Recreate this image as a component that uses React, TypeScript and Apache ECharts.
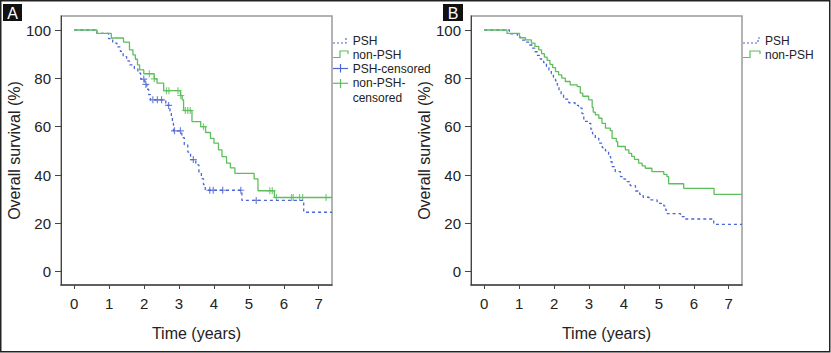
import React, { useEffect, useRef } from "react";
import * as echarts from "echarts";

// ---- tick values ----
const xTickValues = [0, 1, 2, 3, 4, 5, 6, 7];
const yTickValues = [0, 20, 40, 60, 80, 100];

// ---- Panel A: Kaplan–Meier steps [time (years), survival (%)] ----
const aPsh: [number, number][] = [
  [0, 100], [0.65, 98.6], [0.98, 96.4], [1.1, 94.6], [1.22, 93.0], [1.32, 91.2],
  [1.4, 89.0], [1.5, 87.2], [1.58, 85.6], [1.72, 84.0], [1.82, 82.2], [1.9, 79.7],
  [2.02, 77.5], [2.08, 75.5], [2.13, 73.3], [2.18, 71.1], [2.62, 68.8], [2.74, 66.5],
  [2.78, 64.0], [2.81, 61.5], [2.84, 58.3], [3.08, 55.5], [3.15, 52.5], [3.25, 49.5],
  [3.33, 46.4], [3.48, 44.2], [3.57, 41.2], [3.64, 38.5], [3.7, 36.0], [3.75, 33.7],
  [4.8, 29.5], [6.57, 24.6], [7.38, 24.6],
];
const aNonPsh: [number, number][] = [
  [0, 100], [0.65, 98.6], [1.06, 96.7], [1.41, 95.0], [1.58, 91.8], [1.68, 89.7],
  [1.75, 87.9], [1.81, 85.6], [1.87, 83.5], [1.99, 81.9], [2.29, 79.8], [2.37, 78.0],
  [2.56, 74.9], [3.04, 72.9], [3.09, 71.1], [3.13, 66.7], [3.37, 62.1], [3.62, 60.0],
  [3.76, 57.6], [3.9, 55.2], [4.0, 53.2], [4.13, 50.4], [4.23, 47.6], [4.36, 44.9],
  [4.47, 43.0], [4.6, 40.7], [5.15, 38.4], [5.26, 33.5], [5.73, 30.7], [7.38, 30.7],
];
const aPshCensored: [number, number][] = [
  [1.99, 79.7], [2.05, 77.5], [2.25, 71.1], [2.38, 71.1], [2.5, 71.1], [2.7, 68.8],
  [2.87, 58.3], [3.04, 58.3], [3.41, 46.4], [3.88, 33.7], [3.98, 33.7], [4.25, 33.7],
  [4.77, 33.7], [5.21, 29.5],
];
const aNonPshCensored: [number, number][] = [
  [2.15, 81.9], [2.29, 79.8], [2.64, 74.9], [2.71, 74.9], [2.97, 74.9], [3.05, 72.9],
  [3.18, 66.7], [3.25, 66.7], [3.32, 66.7], [3.7, 60.0], [5.6, 33.5], [5.67, 33.5],
  [5.79, 30.7], [6.22, 30.7], [6.27, 30.7], [6.45, 30.7], [6.54, 30.7], [7.21, 30.7],
];

// ---- Panel B ----
const bPsh: [number, number][] = [
  [0, 100], [0.72, 98.4], [0.95, 97.0], [1.05, 95.8], [1.18, 95.0], [1.28, 93.8],
  [1.37, 92.5], [1.45, 91.0], [1.52, 89.5], [1.6, 88.0], [1.7, 86.5], [1.78, 85.0],
  [1.85, 83.5], [1.92, 82.0], [1.98, 80.5], [2.04, 79.0], [2.09, 77.2], [2.14, 75.2],
  [2.2, 73.5], [2.27, 71.4], [2.42, 69.9], [2.6, 68.8], [2.7, 67.7], [2.8, 65.4],
  [2.85, 62.2], [2.98, 61.4], [3.05, 59.0], [3.1, 57.0], [3.18, 55.2], [3.28, 53.2],
  [3.38, 51.3], [3.47, 50.0], [3.56, 47.6], [3.62, 45.5], [3.66, 43.5], [3.75, 41.4],
  [3.9, 39.3], [4.0, 38.3], [4.09, 37.3], [4.18, 35.6], [4.33, 33.4], [4.45, 32.0],
  [4.55, 30.8], [4.72, 29.7], [4.95, 28.3], [5.14, 27.2], [5.2, 25.4], [5.24, 24.0],
  [5.62, 22.8], [5.74, 21.8], [6.57, 19.6], [7.38, 19.6],
];
const bNonPsh: [number, number][] = [
  [0, 100], [0.65, 98.6], [1.01, 96.8], [1.18, 95.9], [1.35, 94.6], [1.45, 93.2],
  [1.56, 91.8], [1.64, 90.2], [1.72, 88.8], [1.8, 87.4], [1.88, 85.8], [1.96, 84.4],
  [2.04, 82.8], [2.13, 81.4], [2.22, 80.1], [2.32, 78.7], [2.46, 77.3], [2.66, 76.6],
  [2.75, 73.9], [2.82, 72.6], [2.99, 71.1], [3.09, 68.0], [3.12, 66.0], [3.18, 64.9],
  [3.28, 63.5], [3.37, 61.4], [3.47, 59.4], [3.61, 58.4], [3.66, 55.2], [3.78, 53.8],
  [3.82, 51.8], [4.04, 50.4], [4.14, 49.0], [4.22, 47.7], [4.3, 46.5], [4.42, 44.9],
  [4.52, 43.8], [4.61, 42.8], [4.8, 41.4], [5.14, 40.3], [5.23, 39.3], [5.28, 36.4],
  [5.71, 34.5], [6.58, 32.0], [7.38, 32.0],
];

const legendA = ["PSH", "non-PSH", "PSH-censored", "non-PSH-", "censored"];
const legendB = ["PSH", "non-PSH"];

const BLUE = "#4d66d3";
const GREEN = "#5cbf5c";
const FONT = "'Liberation Sans', Arial, sans-serif";
const CROSS = "path://M5,0L5,10M0,5L10,5";

function makeAxes(i: number, left: number) {
  const grid = {
    left, top: 16, width: 271, height: 269, show: true,
    borderColor: "#9a9a9a", borderWidth: 1.5, backgroundColor: "transparent",
  };
  const xAxis = {
    type: "value", gridIndex: i, min: -0.38, max: 7.38,
    axisLine: { show: true, onZero: false, lineStyle: { color: "#444", width: 1.5 } },
    axisTick: { show: true, customValues: xTickValues, length: 4, lineStyle: { color: "#444" } },
    axisLabel: { customValues: xTickValues, fontSize: 15, color: "#222", margin: 11, fontFamily: FONT },
    splitLine: { show: false },
    name: "Time (years)", nameLocation: "middle", nameGap: 40,
    nameTextStyle: { fontSize: 16, color: "#222", fontFamily: FONT },
  };
  const yAxis = {
    type: "value", gridIndex: i, min: -5.5, max: 105.8,
    axisLine: { show: true, onZero: false, lineStyle: { color: "#444", width: 1 } },
    axisTick: { show: true, customValues: yTickValues, length: 6, lineStyle: { color: "#444" } },
    axisLabel: { customValues: yTickValues, fontSize: 15, color: "#222", margin: 10, fontFamily: FONT },
    splitLine: { show: false },
    name: "Overall survival (%)", nameLocation: "middle", nameGap: 36, nameRotate: 90,
    nameTextStyle: { fontSize: 16, color: "#222", fontFamily: FONT },
  };
  return { grid, xAxis, yAxis };
}

function stepSeries(data: [number, number][], idx: number, color: string, dashed: boolean) {
  return {
    type: "line", xAxisIndex: idx, yAxisIndex: idx, data, step: "end",
    showSymbol: false, silent: true,
    lineStyle: { color, width: 1.3, type: dashed ? [3, 3] : "solid" },
  };
}

function censorSeries(data: [number, number][], idx: number, color: string) {
  return {
    type: "scatter", xAxisIndex: idx, yAxisIndex: idx, data, symbol: CROSS, symbolSize: 7,
    silent: true, itemStyle: { color: "none", borderColor: color, borderWidth: 1.2 },
  };
}

function legendGraphics(x0: number, x1: number, textX: number, labels: string[], withCensor: boolean) {
  const els: any[] = [];
  const mid = (x0 + x1) / 2;
  els.push({ type: "polyline", shape: { points: [[x0, 43], [x1 - 2, 43], [x1 - 2, 38], [x1, 38]] },
    style: { stroke: BLUE, fill: "none", lineWidth: 1.2, lineDash: [2, 2] } });
  els.push({ type: "polyline", shape: { points: [[x0, 57.5], [x0 + 7, 57.5], [x0 + 7, 51], [x1, 51], [x1, 54]] },
    style: { stroke: GREEN, fill: "none", lineWidth: 1.2 } });
  if (withCensor) {
    els.push({ type: "line", shape: { x1: x0, y1: 68.5, x2: x1, y2: 68.5 }, style: { stroke: BLUE, lineWidth: 1.2 } });
    els.push({ type: "line", shape: { x1: mid, y1: 64, x2: mid, y2: 72.5 }, style: { stroke: BLUE, lineWidth: 1.2 } });
    els.push({ type: "line", shape: { x1: x0, y1: 83.3, x2: x1, y2: 83.3 }, style: { stroke: GREEN, lineWidth: 1.2 } });
    els.push({ type: "line", shape: { x1: mid, y1: 79, x2: mid, y2: 88 }, style: { stroke: GREEN, lineWidth: 1.2 } });
  }
  const ys = [41.3, 54.8, 68.5, 83.3, 97.6];
  labels.forEach((t, k) => {
    els.push({ type: "text", x: textX, y: ys[k],
      style: { text: t, fill: "#222", font: `12px ${FONT}`, verticalAlign: "middle", align: "left" } });
  });
  return els;
}

export default function App() {
  const ref = useRef<HTMLDivElement>(null);
  useEffect(() => {
    if (!ref.current) return;
    const chart = echarts.init(ref.current, undefined, { renderer: "svg" });
    const A = makeAxes(0, 61);
    const B = makeAxes(1, 471);
    const graphic: any[] = [
      { type: "rect", shape: { x: 0.75, y: 0.75, width: 829, height: 351 },
        style: { fill: "none", stroke: "#222", lineWidth: 1.5 }, z: 10 },
      { type: "rect", shape: { x: 3, y: 4, width: 19, height: 17 }, style: { fill: "#111" } },
      { type: "text", x: 12.5, y: 13, style: { text: "A", fill: "#fff", font: `16px ${FONT}`, align: "center", verticalAlign: "middle" } },
      { type: "rect", shape: { x: 443, y: 4, width: 20, height: 17 }, style: { fill: "#111" } },
      { type: "text", x: 453, y: 13, style: { text: "B", fill: "#fff", font: `16px ${FONT}`, align: "center", verticalAlign: "middle" } },
      ...legendGraphics(333, 348, 352.7, legendA, true),
      ...legendGraphics(743, 760, 765, legendB, false),
    ];
    chart.setOption({
      animation: false,
      textStyle: { fontFamily: FONT },
      grid: [A.grid, B.grid],
      xAxis: [A.xAxis, B.xAxis],
      yAxis: [A.yAxis, B.yAxis],
      series: [
        stepSeries(aPsh, 0, BLUE, true),
        stepSeries(aNonPsh, 0, GREEN, false),
        censorSeries(aPshCensored, 0, BLUE),
        censorSeries(aNonPshCensored, 0, GREEN),
        stepSeries(bPsh, 1, BLUE, true),
        stepSeries(bNonPsh, 1, GREEN, false),
      ],
      graphic,
    });
    return () => chart.dispose();
  }, []);
  return (
    <div style={{ position: "absolute", left: 0, top: 0, width: 831, height: 353, background: "#fff" }}>
      <div ref={ref} style={{ width: 831, height: 353 }} />
    </div>
  );
}
